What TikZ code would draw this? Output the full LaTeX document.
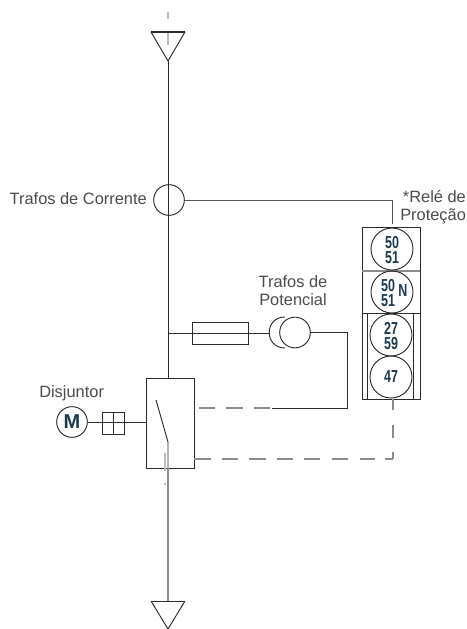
\documentclass[tikz,border=0pt]{standalone}
\usepackage{fontspec}
\setmainfont{Liberation Sans}
\newfontfamily\condf[FakeStretch=0.72]{Liberation Sans}
\definecolor{ink}{HTML}{2B2B2B}
\definecolor{greyl}{HTML}{8C8C8C}
\definecolor{pale}{HTML}{BDBDBD}
\definecolor{code}{HTML}{1C3A4E}
\tikzset{
 wire/.style={draw=ink,line width=0.7pt},
 gwire/.style={draw=greyl,line width=0.9pt},
 pwire/.style={draw=pale,line width=1pt},
 dashw/.style={draw=greyl,line width=0.9pt},
 lbl/.style={font=\fontsize{12.3}{13.6}\selectfont,text=ink!85,inner sep=0pt,align=center},
 codeb/.style={font=\condf\bfseries\fontsize{13}{11.5}\selectfont,text=code,inner sep=0pt,align=center},
 relay/.style={circle,draw=ink,line width=0.7pt,minimum size=31.5pt,inner sep=0pt},
 ctc/.style={circle,draw=ink,line width=0.7pt,minimum size=23pt,inner sep=0pt},
}
\begin{document}
\begin{tikzpicture}[x=0.75pt,y=-0.75pt]
\useasboundingbox (0,0) rectangle (467,629);
% bus
\coordinate (ttl) at (151,32); \coordinate (ttr) at (185,32); \coordinate (tta) at (168,61);
\coordinate (btl) at (151,601); \coordinate (btr) at (185,601); \coordinate (bta) at (168,629);
\draw[pwire] (168,12) -- (168,19);
\draw[pwire] (168,32) -- (168,45);
\draw[wire,line width=1.1pt] (ttl) -- (ttr);
\draw[wire] (ttl) -- (tta) -- (ttr);
\draw[wire] (btl) -- (btr);
\draw[wire] (btl) -- (bta) -- (btr);
% breaker
\node[draw=ink,line width=0.7pt,minimum width=36pt,minimum height=67.5pt,inner sep=0pt,anchor=north west] (brk) at (146,378) {};
\node[ctc] (ct) at (169,200) {};
\draw[wire] (tta) -- (168,378);
\coordinate (sw1) at (156,400); \coordinate (sw2) at (168,442);
\draw[wire] (sw1) -- (sw2) -- (168,468);
\draw[gwire] (168,468) -- (168,601);
\draw[pwire] (165,453) -- (165,471);
\draw[pwire] (165,483) -- (165,485);
% CT wire
\coordinate (rt) at (392,200);
\draw[draw=ink!80,line width=0.7pt] (ct.east) -- (rt) -- (392,224);
\node[lbl,anchor=east] (tc) at (147,199) {Trafos de Corrente};
% relay
\draw[wire] (362,227) rectangle (420,399);
\draw[gwire] (362,271) -- (420,271);
\draw[wire] (362,313) -- (420,313);
\draw[wire] (367,313) -- (367,399);
\draw[wire] (413,313) -- (413,399);
\node[relay] (r1) at (392,249) {};
\node[relay] (r2) at (392,292) {};
\node[relay] (r3) at (391,335) {};
\node[relay] (r4) at (391,377) {};
\node[codeb] (t1) at (392,250) {50\\51};
\node[codeb] (t2) at (388,293) {50\\51};
\node[codeb] (t2n) at (403,291) {N};
\node[codeb] (t3) at (391,336) {27\\59};
\node[codeb] (t4) at (391,377) {47};
\node[lbl,anchor=north west,align=left] (rl) at (400,190) {\hspace*{2pt}*Relé de\\Proteção};
% PT
\node[draw=ink,line width=0.7pt,minimum width=42pt,minimum height=16.5pt,inner sep=0pt] (fuse) at (220,333) {};
\node[ctc] (pt) at (295,332.5) {};
\coordinate (pa) at (285,317); \coordinate (pb) at (285,348);
\draw[wire] (168,333) -- (269,333);
\draw[wire] (pa) .. controls (264,317) and (264,348) .. (pb);
\draw[wire] (pt.east) -- (347,332.5) -- (347,408) -- (272,408);
\node[lbl] (tp) at (293,291) {Trafos de\\Potencial};
% motor
\node[ctc] (m) at (72,422) {\bfseries\color{code}\fontsize{15}{15}\selectfont M};
\node[draw=ink,line width=0.7pt,minimum width=17pt,minimum height=17pt,inner sep=0pt] (aux) at (113.5,423.5) {};
\draw[wire] (aux.north) -- (aux.south);
\draw[wire] (m.east) -- (brk.west |- m.east);
\node[lbl,anchor=west] (dj) at (39,393) {Disjuntor};
% dashed control
\foreach \a/\b in {199/215,226/243,254/270} \draw[dashw] (\a,408) -- (\b,408);
\foreach \a/\b in {194/211,222/238,249/266,277/293,304/320,332/348,360/375,385/393} \draw[dashw] (\a,459) -- (\b,459);
\foreach \a/\b in {399/410,425/438,452/459} \draw[dashw] (393,\a) -- (393,\b);
\end{tikzpicture}
\end{document}
